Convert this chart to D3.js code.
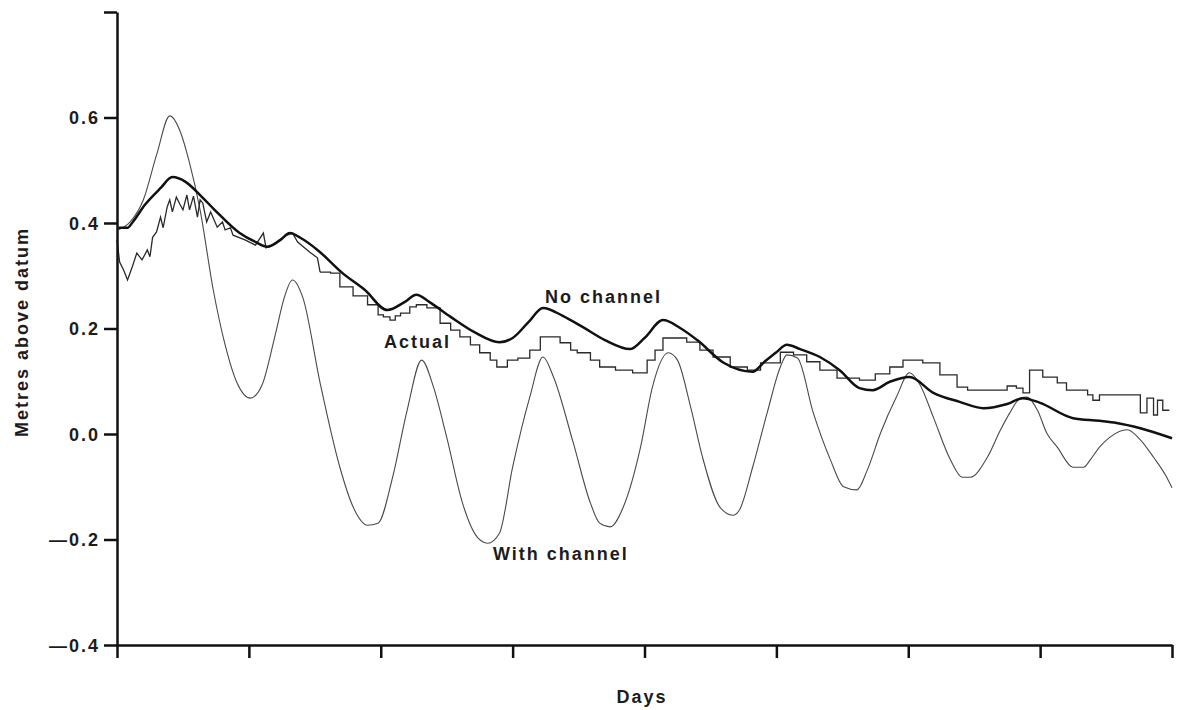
<!DOCTYPE html>
<html>
<head>
<meta charset="utf-8">
<script src="https://cdn.jsdelivr.net/npm/d3@7"></script>
<style>
    body { margin: 0; background: #fff; }
    svg text { font-family: "Liberation Sans", Arial, sans-serif; font-weight: bold; fill: #1c1c1c; letter-spacing: 2px; }
</style>
</head>
<body>
<div id="chart"></div>
<script>

// Data: [day, metres above datum]
const noChannel = [
    [0.01,0.391],[0.08,0.391],[0.12,0.402],[0.21,0.434],[0.33,0.466],[0.42,0.487],[0.52,0.478],
    [0.63,0.453],[0.74,0.425],[0.93,0.381],[1.05,0.364],[1.14,0.355],[1.24,0.368],[1.31,0.381],
    [1.39,0.372],[1.52,0.349],[1.71,0.305],[1.88,0.273],[2.05,0.235],[2.18,0.250],[2.27,0.264],
    [2.37,0.250],[2.53,0.222],[2.71,0.193],[2.90,0.174],[3.00,0.182],[3.12,0.212],[3.23,0.239],
    [3.38,0.224],[3.53,0.203],[3.70,0.178],[3.89,0.161],[4.00,0.182],[4.14,0.216],[4.27,0.201],
    [4.40,0.178],[4.60,0.135],[4.82,0.118],[4.91,0.137],[5.00,0.155],[5.08,0.169],[5.18,0.161],
    [5.33,0.146],[5.48,0.121],[5.63,0.087],[5.73,0.083],[5.86,0.099],[6.01,0.108],[6.19,0.078],
    [6.39,0.061],[6.57,0.049],[6.75,0.057],[6.87,0.068],[7.00,0.059],[7.25,0.030],[7.45,0.025],
    [7.58,0.021],[7.76,0.011],[8.00,-0.008]
]

const actual = [
    [0.00,0.368],[0.02,0.326],[0.05,0.311],[0.08,0.292],[0.12,0.320],[0.15,0.343],[0.19,0.330],
    [0.23,0.349],[0.25,0.336],[0.27,0.373],[0.30,0.383],[0.33,0.411],[0.35,0.391],[0.38,0.430],
    [0.40,0.444],[0.42,0.421],[0.45,0.449],[0.48,0.434],[0.50,0.425],[0.53,0.453],[0.55,0.425],
    [0.58,0.451],[0.61,0.411],[0.63,0.444],[0.65,0.438],[0.68,0.402],[0.71,0.421],[0.76,0.392],
    [0.80,0.402],[0.82,0.387],[0.86,0.391],[0.88,0.377],[0.97,0.368],[1.05,0.358],[1.11,0.381],
    [1.13,0.353],[1.18,0.358],[1.27,0.375],[1.33,0.381],[1.37,0.364],[1.46,0.345],[1.52,0.334],
    [1.54,0.307],[1.62,0.305],[1.69,0.279],[1.79,0.262],[1.90,0.245],[1.98,0.226],[2.02,0.222],
    [2.07,0.216],[2.11,0.224],[2.15,0.229],[2.22,0.241],[2.27,0.245],[2.35,0.239],[2.45,0.210],
    [2.53,0.197],[2.60,0.184],[2.68,0.169],[2.75,0.154],[2.83,0.140],[2.88,0.127],[2.96,0.140],
    [3.04,0.144],[3.13,0.159],[3.21,0.184],[3.31,0.184],[3.36,0.173],[3.44,0.159],[3.49,0.154],
    [3.59,0.140],[3.66,0.127],[3.78,0.121],[3.91,0.116],[4.02,0.140],[4.08,0.159],[4.14,0.182],
    [4.32,0.174],[4.42,0.159],[4.52,0.146],[4.65,0.127],[4.78,0.121],[4.88,0.135],[5.03,0.155],
    [5.13,0.150],[5.23,0.137],[5.33,0.121],[5.46,0.106],[5.63,0.102],[5.75,0.114],[5.86,0.127],
    [5.96,0.140],[6.11,0.135],[6.24,0.112],[6.37,0.089],[6.45,0.083],[6.70,0.083],[6.75,0.091],
    [6.82,0.087],[6.87,0.078],[6.92,0.121],[7.02,0.108],[7.13,0.097],[7.20,0.083],[7.36,0.074],
    [7.40,0.064],[7.45,0.074],[7.68,0.074],[7.76,0.040],[7.81,0.068],[7.86,0.036],[7.89,0.064],
    [7.93,0.045],[7.98,0.045]
]

const withChannel = [
    [0.01,0.387],[0.10,0.402],[0.20,0.444],[0.30,0.529],[0.40,0.603],[0.48,0.573],[0.55,0.514],
    [0.63,0.425],[0.73,0.273],[0.82,0.169],[0.91,0.097],[1.01,0.068],[1.10,0.093],[1.20,0.188],
    [1.27,0.260],[1.33,0.292],[1.41,0.258],[1.54,0.097],[1.69,-0.063],[1.79,-0.138],[1.90,-0.173],
    [1.98,-0.169],[2.09,-0.082],[2.20,0.045],[2.31,0.140],[2.40,0.089],[2.50,-0.006],[2.62,-0.131],
    [2.73,-0.195],[2.81,-0.207],[2.90,-0.188],[3.00,-0.063],[3.13,0.070],[3.23,0.146],[3.31,0.108],
    [3.46,-0.017],[3.59,-0.131],[3.66,-0.169],[3.74,-0.176],[3.84,-0.138],[3.97,-0.025],[4.06,0.089],
    [4.18,0.154],[4.25,0.140],[4.35,0.051],[4.44,-0.044],[4.57,-0.138],[4.67,-0.154],[4.72,-0.144],
    [4.82,-0.063],[4.93,0.040],[5.03,0.127],[5.08,0.150],[5.16,0.144],[5.28,0.040],[5.41,-0.049],
    [5.51,-0.100],[5.61,-0.106],[5.69,-0.068],[5.79,0.002],[5.91,0.070],[6.01,0.116],[6.09,0.093],
    [6.19,0.032],[6.32,-0.049],[6.41,-0.082],[6.47,-0.082],[6.60,-0.044],[6.70,0.008],[6.77,0.040],
    [6.85,0.068],[6.90,0.070],[6.98,0.045],[7.05,0.002],[7.13,-0.025],[7.25,-0.063],[7.33,-0.063],
    [7.38,-0.049],[7.45,-0.025],[7.53,-0.006],[7.66,0.008],[7.76,-0.011],[7.86,-0.044],[7.96,-0.082],
    [8.00,-0.102]
]

const dayTicks = [0, 1, 2, 3, 4, 5, 6, 7, 8]
const metreTicks = [-0.4, -0.2, 0.0, 0.2, 0.4, 0.6, 0.8]
const metreLabels = ["\u20140.4", "\u20140.2", "0.0", "0.2", "0.4", "0.6", ""]

// Chart frame
const WIDTH = 1182
const HEIGHT = 710
const PLOT = {LEFT:117, RIGHT:1172, TOP:12, BOTTOM:645}

let svg = d3.select("#chart").append("svg")
    .attr("width", WIDTH)
    .attr("height", HEIGHT)

let xScale = d3.scaleLinear()
    .domain([0, 8])
    .range([PLOT.LEFT, PLOT.RIGHT])

let yScale = d3.scaleLinear()
    .domain([-0.4, 0.8])
    .range([PLOT.BOTTOM, PLOT.TOP])

// smooth curves for the model runs; the gauge record is spiky early on, then stepped
let smooth = d3.line()
    .x(d=>xScale(d[0]))
    .y(d=>yScale(d[1]))
    .curve(d3.curveMonotoneX)

let jagged = d3.line()
    .x(d=>xScale(d[0]))
    .y(d=>yScale(d[1]))

let stepped = d3.line()
    .x(d=>xScale(d[0]))
    .y(d=>yScale(d[1]))
    .curve(d3.curveStepAfter)

svg.append("path").datum(withChannel)
    .attr("d", smooth)
    .attr("fill", "none")
    .attr("stroke", "#4a4a4a")
    .attr("stroke-width", 1.1)

const SPLIT = 1.54
svg.append("path").datum(actual.filter(d=>d[0] <= SPLIT))
    .attr("d", jagged)
    .attr("fill", "none")
    .attr("stroke", "#2a2a2a")
    .attr("stroke-width", 1.3)

svg.append("path").datum(actual.filter(d=>d[0] >= SPLIT))
    .attr("d", stepped)
    .attr("fill", "none")
    .attr("stroke", "#2a2a2a")
    .attr("stroke-width", 1.3)

svg.append("path").datum(noChannel)
    .attr("d", smooth)
    .attr("fill", "none")
    .attr("stroke", "#111")
    .attr("stroke-width", 2.5)

// Axes
let xAxis = svg.append("g")
    .attr("transform", "translate(0," + PLOT.BOTTOM + ")")
    .call(d3.axisBottom(xScale).tickValues(dayTicks).tickSize(13).tickSizeOuter(0).tickFormat(""))

let yAxis = svg.append("g")
    .attr("transform", "translate(" + PLOT.LEFT + ",0)")
    .call(d3.axisLeft(yScale).tickValues(metreTicks).tickSize(13).tickSizeOuter(0)
        .tickFormat((d,i)=>metreLabels[i]))

svg.selectAll(".domain, .tick line")
    .attr("stroke", "#111")
    .attr("stroke-width", 2.5)

yAxis.selectAll(".tick text")
    .attr("x", -17)
    .attr("dy", "0.35em")
    .style("font-size", "18px")
    .style("font-family", "'Liberation Sans', Arial, sans-serif")

// Axis titles
svg.append("text")
    .attr("x", 642)
    .attr("y", 703)
    .attr("text-anchor", "middle")
    .style("font-size", "18px")
    .text("Days")

svg.append("text")
    .attr("transform", "translate(28,332) rotate(-90)")
    .attr("text-anchor", "middle")
    .style("font-size", "18px")
    .text("Metres above datum")

// Series labels
svg.append("text").attr("x", 545).attr("y", 303).style("font-size", "18px").text("No channel")
svg.append("text").attr("x", 384).attr("y", 348).style("font-size", "18px").text("Actual")
svg.append("text").attr("x", 493).attr("y", 560).style("font-size", "18px").text("With channel")

</script>
</body>
</html>
